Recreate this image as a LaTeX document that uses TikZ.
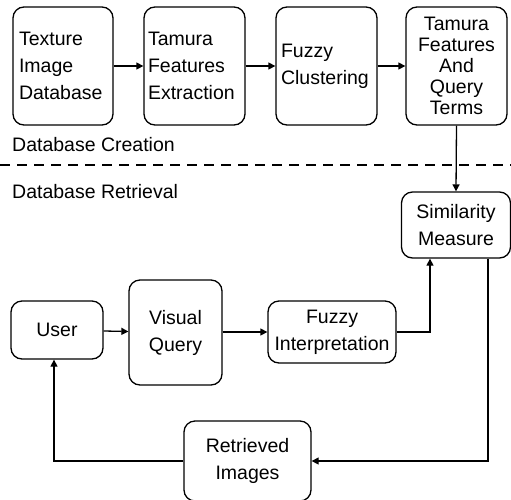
\documentclass[tikz,border=0pt]{standalone}
\usepackage{fontspec}
\setmainfont{Liberation Sans}
\usetikzlibrary{arrows.meta}
\begin{document}
\begin{tikzpicture}[x=1pt,y=-1pt,
  box/.style={draw, line width=1.3pt, rounded corners=11pt, inner sep=0pt,
    font=\fontsize{19.5}{27}\selectfont},
  lbox/.style={box, align=left},
  cbox/.style={box, align=center},
  conn/.style={line width=1.3pt, -{Triangle[length=7pt,width=7pt]}},
  lbl/.style={font=\fontsize{19.5}{27}\selectfont, anchor=west, inner sep=0pt}]
\useasboundingbox (0,0) rectangle (511,499);
% top row
\node[lbox, minimum width=100pt, minimum height=118pt] (tid) at (63,66)
  {\parbox{88pt}{Texture\\Image\\Database}};
\node[lbox, minimum width=101pt, minimum height=118pt] (tfe) at (194.5,66)
  {\parbox{93pt}{Tamura\\Features\\Extraction}};
\node[lbox, minimum width=101pt, minimum height=118pt] (fc) at (326.5,66)
  {\parbox{91pt}{Fuzzy\\Clustering}};
\node[cbox, minimum width=101pt, minimum height=118pt,
  font=\fontsize{19.5}{21}\selectfont] (tfq) at (456.5,66)
  {Tamura\\Features\\And\\Query\\Terms};
% labels and divider
\node[lbl] (dbc) at (12,145) {Database Creation};
\node[lbl] (dbr) at (12,192) {Database Retrieval};
\coordinate (dl) at (0,165);
\coordinate (dr) at (511,165);
\draw[line width=1.3pt, dash pattern=on 10pt off 7pt] (dl) -- (dr);
% bottom part
\node[cbox, minimum width=109pt, minimum height=66pt] (sim) at (456,225)
  {Similarity\\Measure};
\node[cbox, minimum width=92pt, minimum height=58pt] (user) at (57,330) {User};
\node[cbox, minimum width=93pt, minimum height=105pt] (vq) at (175.5,332.5)
  {Visual\\Query};
\node[cbox, minimum width=128pt, minimum height=62pt] (fi) at (332,332)
  {Fuzzy\\Interpretation};
\node[cbox, minimum width=127pt, minimum height=80pt] (ret) at (247.5,461)
  {Retrieved\\Images};
% connectors
\draw[conn] (tid) -- (tfe);
\draw[conn] (tfe) -- (fc);
\draw[conn] (fc) -- (tfq);
\draw[conn] (tfq.south) -- (sim.north);
\draw[conn] (user) -- (vq);
\draw[conn] (vq.east |- fi.west) -- (fi.west);
\draw[conn] (fi.east) -| ([xshift=-26pt]sim.south);
\draw[conn] ([xshift=32pt]sim.south) |- (ret.east);
\draw[conn] (ret.west) -| ([xshift=-3pt]user.south);
\end{tikzpicture}
\end{document}
